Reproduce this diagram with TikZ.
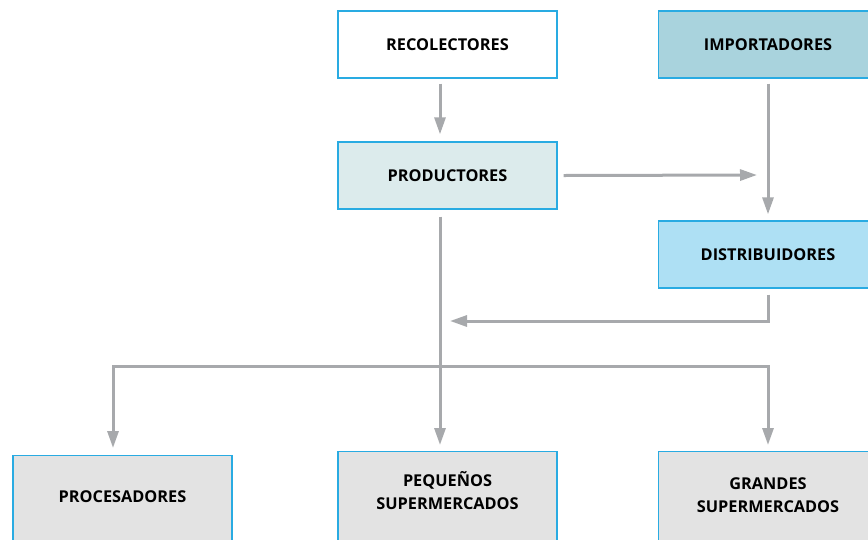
\documentclass[tikz,border=0pt]{standalone}
\usepackage{fontspec}
\setmainfont{Open Sans}
\usetikzlibrary{arrows.meta}
\definecolor{boxline}{HTML}{29ABE2}
\definecolor{flowgray}{HTML}{A7A9AC}
\definecolor{prodfill}{HTML}{DCEBEC}
\definecolor{impfill}{HTML}{A9D3DD}
\definecolor{distfill}{HTML}{AEE0F4}
\definecolor{retailfill}{HTML}{E3E3E3}
\tikzset{
  actor/.style={draw=boxline, line width=1.3pt, minimum width=219pt, minimum height=67pt,
    inner sep=0pt, align=center, font=\bfseries\fontsize{16.3}{23}\selectfont},
  outlet/.style={actor, fill=retailfill, anchor=north, minimum height=0pt}
}
\tikzset{flow/.style={draw=flowgray, line width=3pt, -{Triangle[length=17pt,width=11pt]}}}
\begin{document}
\begin{tikzpicture}[x=1pt, y=-1pt]
    \useasboundingbox (0,0) rectangle (868,539);
    \clip (0,0) rectangle (868,539);

    \node[actor, fill=white]     (reco) at (447.5,44.5)  {RECOLECTORES};
    \node[actor, fill=impfill]   (impo) at (768,44.5)    {IMPORTADORES};
    \node[actor, fill=prodfill]  (prod) at (447.5,175.5) {PRODUCTORES};
    \node[actor, fill=distfill]  (dist) at (768,254.5)   {DISTRIBUIDORES};
    \node[outlet, text height=47pt, text depth=50pt] (proc) at (122.5,455) {PROCESADORES};
    \node[outlet, text height=58pt, text depth=60pt] (pequ) at (447.5,451) {PEQUEÑOS\\SUPERMERCADOS};
    \node[outlet, text height=61pt, text depth=60pt] (gran) at (768,451)   {GRANDES\\SUPERMERCADOS};

    \coordinate (toimpo) at (757,175);
    \coordinate (todist) at (450,321);
    \coordinate (branch) at (440,366);

    \draw[flow] ([xshift=-7.5pt,yshift=-5pt]reco.south) -- ([xshift=-7.5pt,yshift=7pt]prod.north);
    \draw[flow] ([xshift=6pt]prod.east) -- (toimpo);
    \draw[flow] ([yshift=-5pt]impo.south) -- ([yshift=6pt]dist.north);
    \draw[flow] ([yshift=-6pt]dist.south) |- (todist);
    \draw[flow] ([xshift=-7.5pt,yshift=-7pt]prod.south) -- ([xshift=-7.5pt,yshift=6pt]pequ.north);
    \draw[flow] (branch) -| ([xshift=-9.5pt,yshift=7pt]proc.north);
    \draw[flow] (branch) -| ([yshift=6pt]gran.north);
\end{tikzpicture}
\end{document}
